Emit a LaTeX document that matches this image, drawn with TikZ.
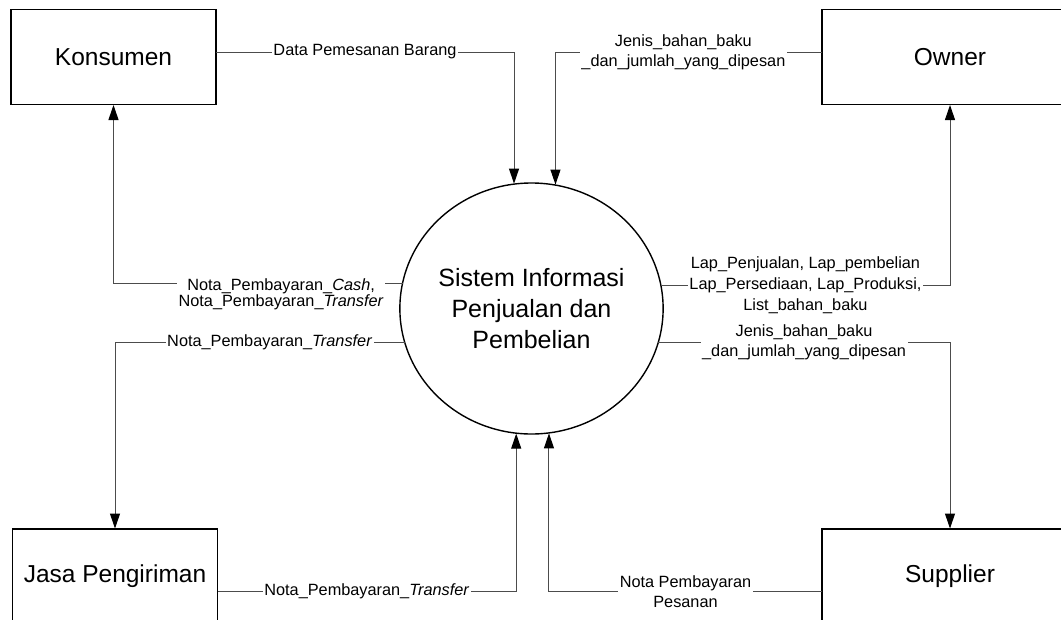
\documentclass[tikz,border=0pt]{standalone}
\usepackage{fontspec}
\setmainfont{Liberation Sans}
\usepackage{tikz}
\usetikzlibrary{shapes.geometric,arrows.meta}

\begin{document}
\begin{tikzpicture}[x=1pt,y=-1pt,
  entity/.style={draw,line width=1.6pt,minimum width=205pt,minimum height=95pt,outer sep=0pt,
    font=\fontsize{24.5}{29}\selectfont},
  process/.style={draw,ellipse,line width=1.4pt,minimum width=236pt,minimum height=251pt,
    inner sep=0pt,outer sep=0pt,align=center,font=\fontsize{25}{31}\selectfont},
  flow/.style={draw=black!70,line width=1pt,-{Triangle[length=15pt,width=10pt,color=black]},shorten >=0.5pt},
  lbl/.style={fill=white,text=black,inner sep=1.5pt,align=center,font=\fontsize{16.3}{20}\selectfont}]
\useasboundingbox (0,0) rectangle (1061,619);
\clip (0,0) rectangle (1061,619);

% Entities
\node[entity] (ko) at (113.5,57) {Konsumen};
\node[entity,minimum width=256pt] (ow) at (950,57) {Owner};
\node[entity] (jp) at (115,576.5) {Jasa Pengiriman};
\node[entity,minimum width=256pt] (sp) at (950,576.5) {Supplier};

% Process
\node[process] (sys) at (531.5,308.5) {Sistem Informasi\\Penjualan dan\\Pembelian};

% Flows on top
\draw[flow] ([yshift=5pt]ko.east) -| node[lbl,pos=0.25] {Data Pemesanan Barang} (sys.98.5);
\draw[flow] ([yshift=5pt]ow.west) -| node[lbl,pos=0.26] {Jenis\_bahan\_baku\\\_dan\_jumlah\_yang\_dipesan} (sys.79.6);

% Flows on the sides
\draw[flow] (sys.169.5) -| node[lbl,pos=0.21,anchor=north,yshift=7pt,font=\fontsize{16.3}{16.5}\selectfont]
  {Nota\_Pembayaran\_\textit{Cash},\\Nota\_Pembayaran\_\textit{Transfer}} (ko.south);
\draw[flow] (sys.195.4) -| node[lbl,pos=0.233] {Nota\_Pembayaran\_\textit{Transfer}} (jp.north);
\draw[flow] (sys.10.5) -| node[lbl,pos=0.25,font=\fontsize{16.3}{21}\selectfont]
  {Lap\_Penjualan, Lap\_pembelian\\Lap\_Persediaan, Lap\_Produksi,\\List\_bahan\_baku} (ow.south);
\draw[flow] (sys.-15.4) -| node[lbl,pos=0.25] {Jenis\_bahan\_baku\\\_dan\_jumlah\_yang\_dipesan} (sp.north);

% Flows at the bottom
\draw[flow] ([yshift=-15pt]jp.east) -| node[lbl,pos=0.25] {Nota\_Pembayaran\_\textit{Transfer}} (sys.263.4);
\draw[flow] ([yshift=-15pt]sp.west) -| node[lbl,pos=0.25] {Nota Pembayaran\\Pesanan} (sys.278.5);
\end{tikzpicture}
\end{document}
